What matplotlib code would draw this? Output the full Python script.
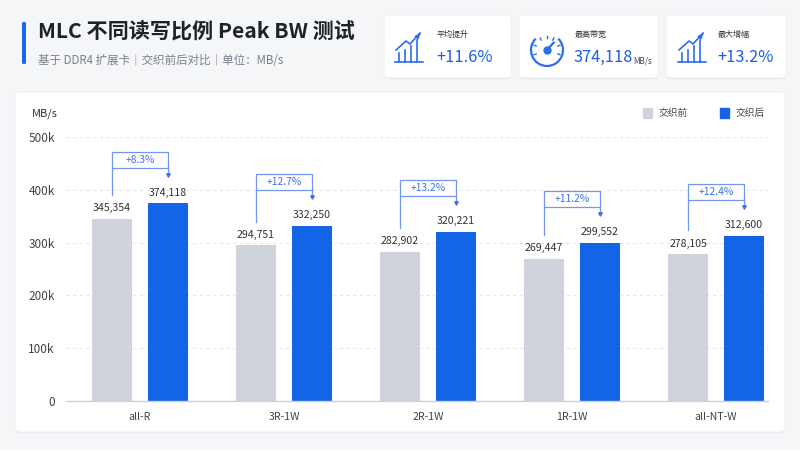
import matplotlib
matplotlib.use("Agg")
import matplotlib.pyplot as plt
from matplotlib.patches import FancyBboxPatch, Rectangle, Arc
import numpy as np

plt.rcParams["font.family"] = ["Noto Sans CJK SC", "DejaVu Sans"]

categories = ["all-R", "3R-1W", "2R-1W", "1R-1W", "all-NT-W"]
before = [345354, 294751, 282902, 269447, 278105]
after = [374118, 332250, 320221, 299552, 312600]
y_ticks = [0, 100000, 200000, 300000, 400000, 500000]
y_tick_labels = ["0", "100k", "200k", "300k", "400k", "500k"]
kpi_labels = ["平均提升", "最高带宽", "最大增幅"]
kpi_values = ["+11.6%", "374,118", "+13.2%"]

GRAY = "#cfd4dc"
BLUE = "#1464e8"
TXT_BLUE = "#1a5fe8"
LINE_BLUE = "#7396f5"

W, H = 800, 450


def fx(px):
    return px / W


def fy(py):
    return 1 - py / H


def card(fig, x0, y0, x1, y1, r=6):
    shadow = FancyBboxPatch((fx(x0), fy(y1) - 0.003), fx(x1 - x0), (y1 - y0) / H,
                            boxstyle=f"round,pad=0,rounding_size={r / W}",
                            transform=fig.transFigure, facecolor="#e9ecf1",
                            edgecolor="none", zorder=-3)
    box = FancyBboxPatch((fx(x0), fy(y1)), fx(x1 - x0), (y1 - y0) / H,
                         boxstyle=f"round,pad=0,rounding_size={r / W}",
                         transform=fig.transFigure, facecolor="white",
                         edgecolor="#eceef2", linewidth=0.6, zorder=-2)
    fig.patches.extend([shadow, box])


def icon_axes(fig, x0, y0, x1, y1):
    a = fig.add_axes([fx(x0), fy(y1), fx(x1 - x0), (y1 - y0) / H])
    a.set_xlim(x0, x1)
    a.set_ylim(y1, y0)
    a.axis("off")
    return a


def trend_icon(fig, x0, y0):
    a = icon_axes(fig, x0, y0, x0 + 32, y0 + 34)
    c = "#2d6cf0"
    base = y0 + 31
    a.plot([x0 + 1, x0 + 29], [base, base], color=c, lw=1.2)
    for bx, top in zip([5, 11, 17, 23], [22, 19, 15, 9]):
        a.plot([x0 + bx, x0 + bx], [base, y0 + top], color=c, lw=1.2)
    a.plot([x0 + 2, x0 + 12, x0 + 16, x0 + 26], [y0 + 19, y0 + 10, y0 + 13, y0 + 2],
           color=c, lw=1.2)
    a.annotate("", xy=(x0 + 28, y0 + 0.5), xytext=(x0 + 24, y0 + 5),
               arrowprops=dict(arrowstyle="-|>", color=c, lw=1.2,
                               mutation_scale=6))


def gauge_icon(fig, cx, cy, r):
    a = icon_axes(fig, cx - r - 3, cy - r - 3, cx + r + 3, cy + r + 3)
    c = "#2d6cf0"
    a.add_patch(Arc((cx, cy), 2 * r, 2 * r, theta1=-45, theta2=225,
                    color=c, lw=1.6, transform=a.transData))
    # y axis is flipped, so angles are mirrored
    for ang in [200, 160, 120, 90, 60, 20, -20]:
        t = np.radians(-ang)
        a.plot([cx + 0.72 * r * np.cos(t), cx + 0.86 * r * np.cos(t)],
               [cy + 0.72 * r * np.sin(t), cy + 0.86 * r * np.sin(t)],
               color=c, lw=1)
    t = np.radians(-48)
    a.plot([cx, cx + 0.62 * r * np.cos(t)], [cy, cy + 0.62 * r * np.sin(t)],
           color=c, lw=1.6)
    a.plot(cx, cy, "o", color=c, ms=5)


fig = plt.figure(figsize=(8, 4.5), dpi=100)
fig.patch.set_facecolor("#f5f6f8")

# header
fig.patches.append(FancyBboxPatch((fx(22), fy(64)), fx(4), 42 / H,
                                  boxstyle=f"round,pad=0,rounding_size={2 / W}",
                                  transform=fig.transFigure, facecolor="#1a66f0",
                                  edgecolor="none", zorder=-1))
fig.text(fx(38), fy(32), "MLC 不同读写比例 Peak BW 测试", fontsize=15.2,
         fontweight="bold", color="#1f2329", va="center", ha="left")
fig.text(fx(38), fy(60), "基于 DDR4 扩展卡｜交织前后对比｜单位：MB/s", fontsize=8.3,
         color="#7a808a", va="center", ha="left")

# KPI cards
card(fig, 384, 15, 511, 78)
card(fig, 519, 15, 658, 78)
card(fig, 666, 15, 786, 78)
trend_icon(fig, 394, 31)
gauge_icon(fig, 547, 50, 16)
trend_icon(fig, 677, 31)
for xt, lab, val in zip([437, 575, 718], kpi_labels, kpi_values):
    fig.text(fx(xt), fy(34), lab, fontsize=5.8, color="#333333", va="center")
    fig.text(fx(xt - 1), fy(57), val, fontsize=11.8, color=TXT_BLUE, va="center",
             fontweight="medium")
fig.text(fx(633), fy(61), "MB/s", fontsize=5.8, color="#444444", va="center")

# main card
card(fig, 15, 92, 785, 432, r=8)

ax = fig.add_axes([fx(66), fy(401), fx(702), 264 / H])
ax.set_facecolor("none")
x = np.arange(len(categories))
bw, off = 0.278, 0.194
ax.bar(x - off, before, bw, color=GRAY, zorder=2, label="交织前")
ax.bar(x + off, after, bw, color=BLUE, zorder=2, label="交织后")

for i in range(len(categories)):
    ax.annotate(f"{before[i]:,}", (x[i] - off, before[i]), xytext=(0, 4),
                textcoords="offset points", ha="center", va="bottom",
                fontsize=7.6, color="#333333")
    ax.annotate(f"{after[i]:,}", (x[i] + off, after[i]), xytext=(0, 4),
                textcoords="offset points", ha="center", va="bottom",
                fontsize=7.6, color="#333333")
    top = after[i] + 98000
    bot = top - 30000
    xl, xr = x[i] - off, x[i] + off
    ax.add_patch(Rectangle((xl, bot), xr - xl, top - bot, facecolor="white",
                           edgecolor=LINE_BLUE, lw=0.9, zorder=3, clip_on=False))
    ax.plot([xl, xl], [bot, before[i] + 45000], color=LINE_BLUE, lw=0.9,
            zorder=3, clip_on=False)
    ax.plot([xr, xr], [bot, bot - 14000], color=LINE_BLUE, lw=0.9,
            zorder=3, clip_on=False)
    ax.plot(xr, bot - 14000, marker="v", ms=2.5, color="#3d6ff0", zorder=4,
            clip_on=False)
    gain = (after[i] / before[i] - 1) * 100
    ax.text(x[i], (top + bot) / 2, f"+{gain:.1f}%", ha="center", va="center",
            fontsize=7.4, color="#3d6ff0", zorder=4)

ax.set_xlim(-0.514, 4.361)
ax.set_ylim(0, 500000)
ax.set_xticks(x)
ax.set_xticklabels(categories, fontsize=7.6, color="#444444")
ax.set_yticks(y_ticks)
ax.set_yticklabels(y_tick_labels, fontsize=8.5, color="#444444")
ax.tick_params(axis="both", length=0)
ax.tick_params(axis="y", pad=8)
ax.tick_params(axis="x", pad=8)
for s in ["top", "right", "left"]:
    ax.spines[s].set_visible(False)
ax.spines["bottom"].set_color("#c9d3e3")
ax.spines["bottom"].set_linewidth(1.0)
ax.yaxis.grid(True, linestyle=(0, (3, 3)), color="#e3e6ea", lw=0.8, zorder=0)
ax.set_axisbelow(True)

fig.text(fx(32), fy(114), "MB/s", fontsize=8, color="#333333", va="center")

# legend
fig.patches.append(Rectangle((fx(643), fy(118)), fx(9), 10 / H, color=GRAY,
                             transform=fig.transFigure, zorder=-1))
fig.text(fx(659), fy(113), "交织前", fontsize=7, color="#444444", va="center")
fig.patches.append(Rectangle((fx(720), fy(118)), fx(9), 10 / H, color=BLUE,
                             transform=fig.transFigure, zorder=-1))
fig.text(fx(736), fy(113), "交织后", fontsize=7, color="#444444", va="center")

fig.savefig("out.png", dpi=100, facecolor=fig.get_facecolor())
